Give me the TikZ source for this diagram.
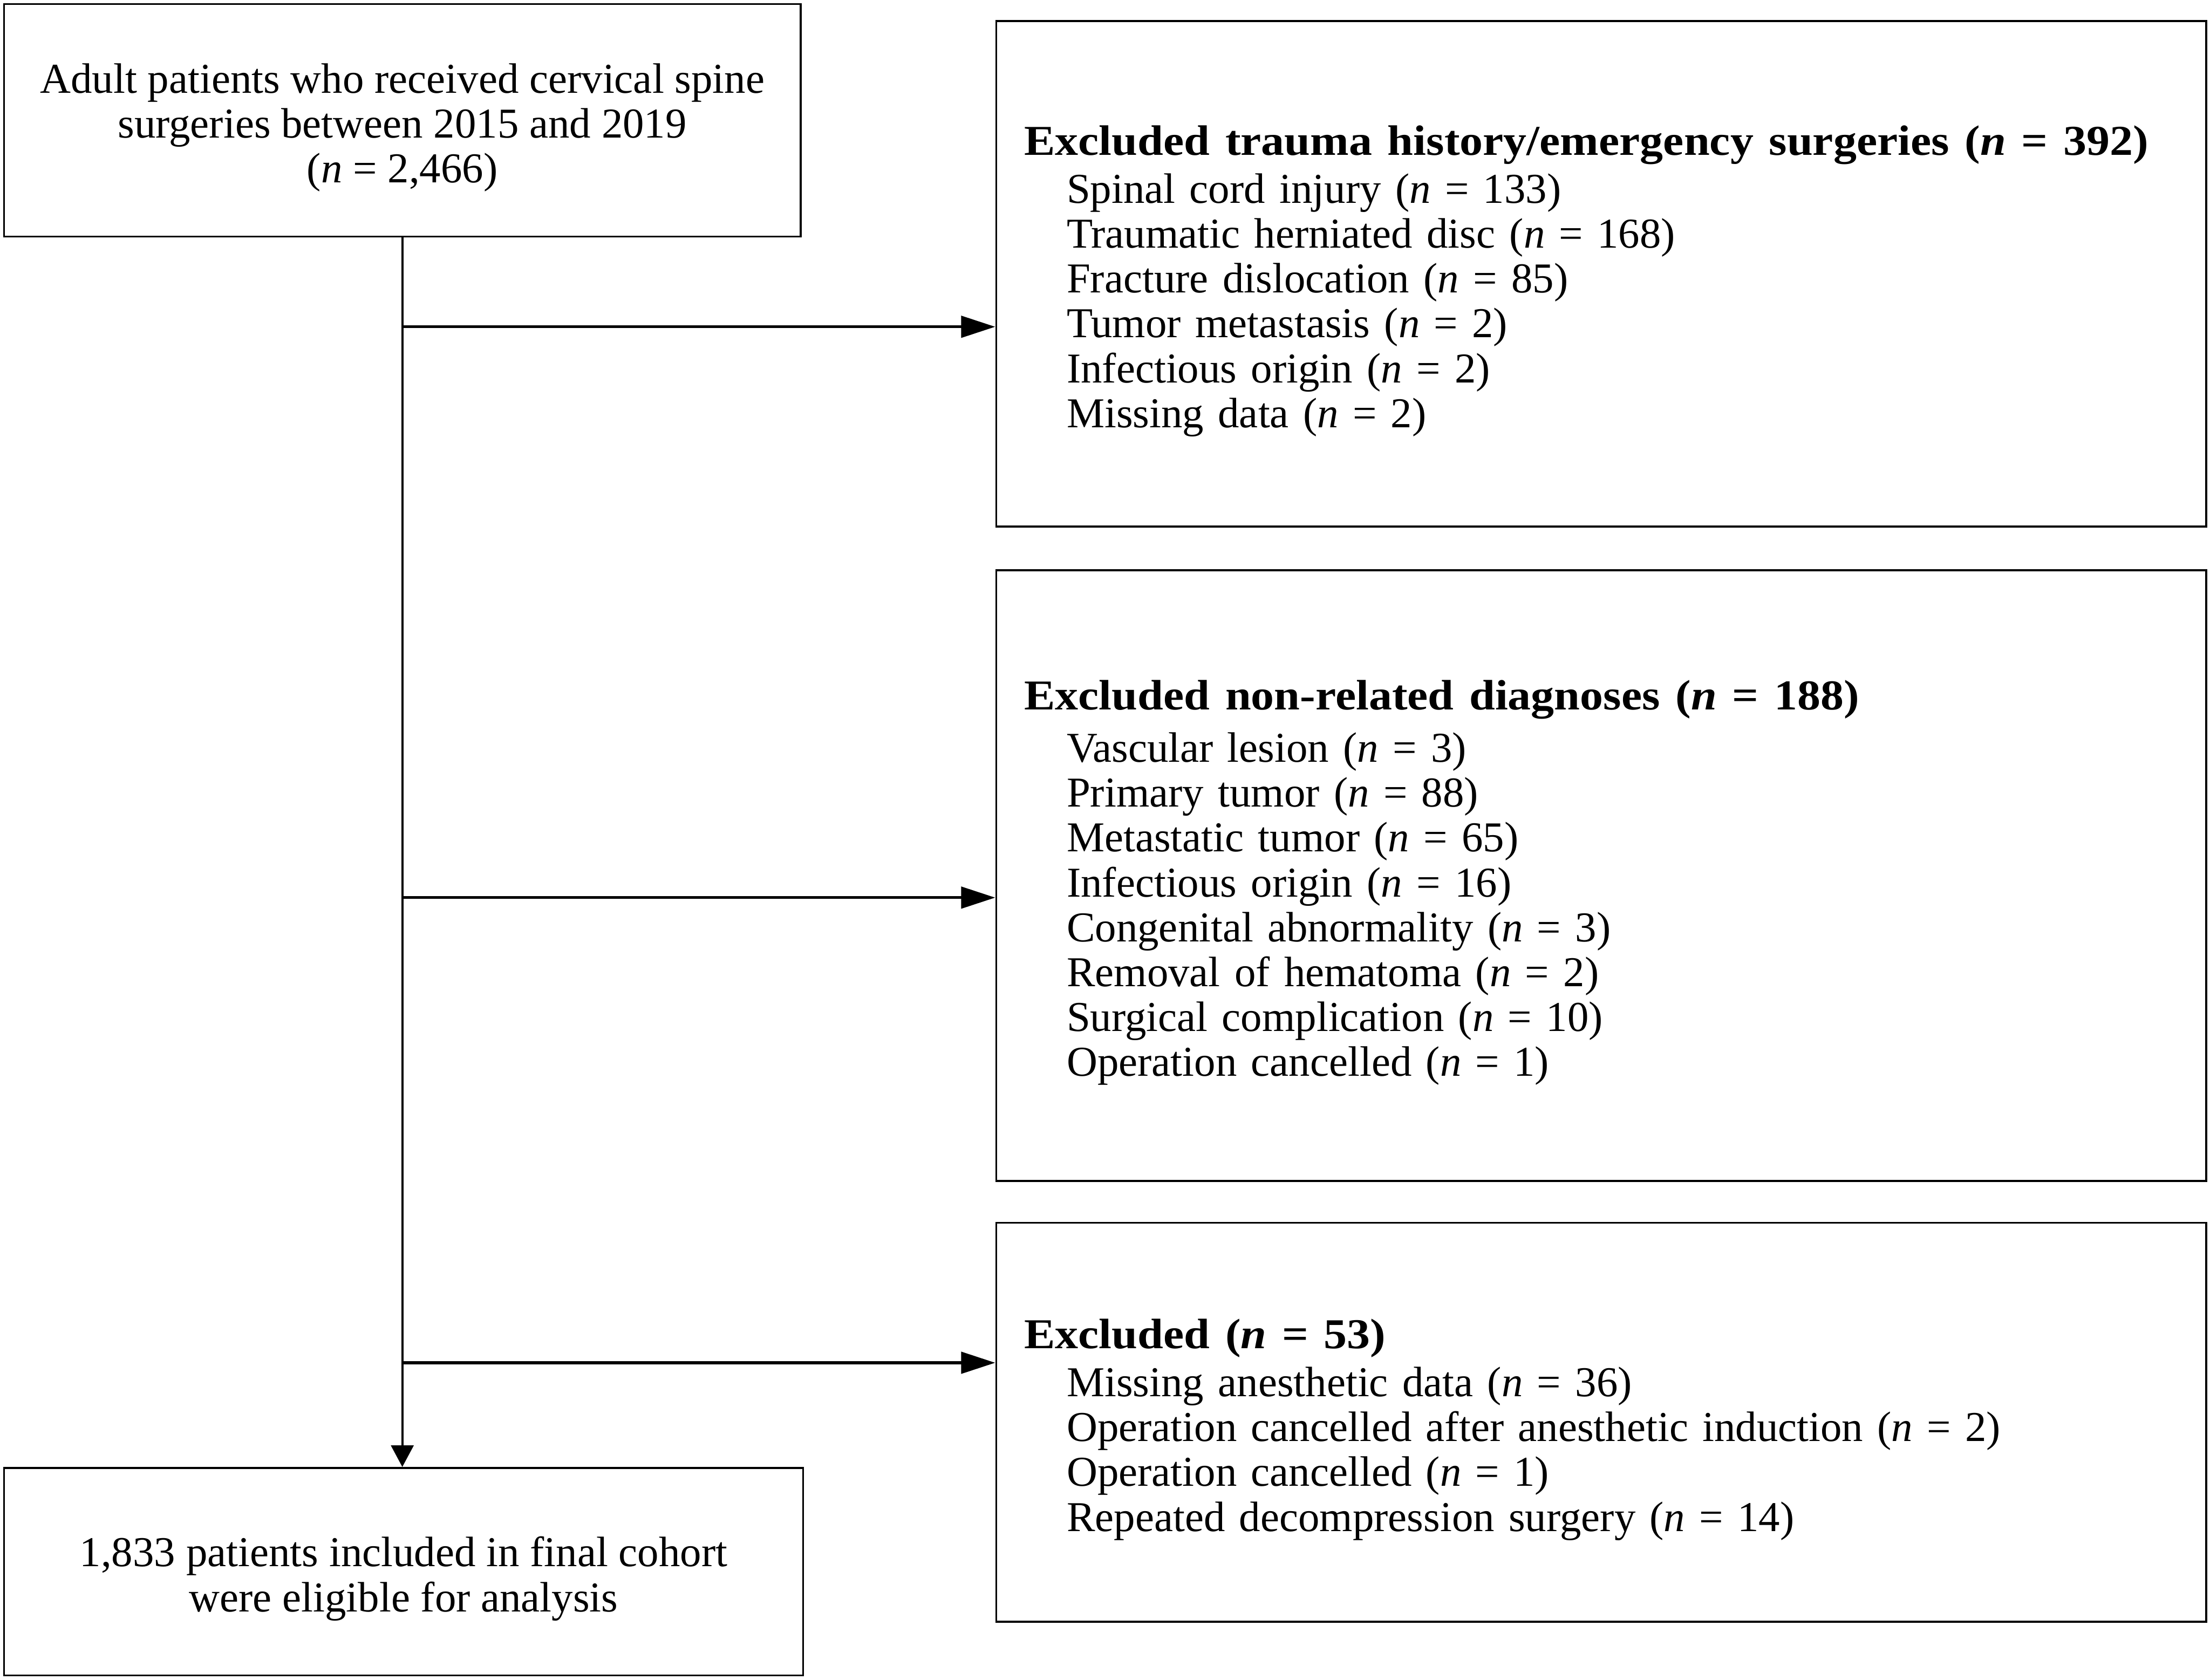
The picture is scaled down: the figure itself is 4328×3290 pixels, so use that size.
\documentclass[tikz,border=0pt]{standalone}
\usepackage{graphicx}
\usepackage{fontspec}
\setmainfont{Liberation Serif}
\usetikzlibrary{arrows.meta}
\newcommand\itemind{\hspace*{0.83cm}}
\newcommand\nn{\textit{n}}
\newcommand\topstrut{\rule{0pt}{\dimexpr 0.7em+8pt\relax}}
\newcommand\boldtitle[1]{\scalebox{1.09}[1]{\textbf{#1}}}
\begin{document}
\begin{tikzpicture}[x=0.01cm,y=-0.01cm,
  box/.style={draw, line width=1.1pt, inner ysep=0pt, anchor=north west,
    font=\fontsize{23.7}{25}\selectfont},
  leftbox/.style={box, inner xsep=0.55cm, align=left, minimum width=23.68cm, text width=22.58cm},
  midbox/.style={box, inner xsep=0pt, align=center},
  harrow/.style={line width=1.6pt, -{Triangle[length=19pt,width=12pt]}},
  varrow/.style={line width=1.3pt, -{Triangle[length=12pt,width=12.5pt]}}]
\useasboundingbox (0,0) rectangle (4328,3290);

\node[midbox, minimum width=15.59cm, minimum height=4.55cm] (a) at (6,6)
  {\topstrut Adult patients who received cervical spine\\surgeries between 2015 and 2019\\(\nn{} = 2,466)};

\node[leftbox, minimum height=9.90cm] (b) at (1949,39)
  {\topstrut\boldtitle{Excluded trauma history/emergency surgeries (\nn{} = 392)}\\[1.7pt]
   \itemind Spinal cord injury (\nn{} = 133)\\
   \itemind Traumatic herniated disc (\nn{} = 168)\\
   \itemind Fracture dislocation (\nn{} = 85)\\
   \itemind Tumor metastasis (\nn{} = 2)\\
   \itemind Infectious origin (\nn{} = 2)\\
   \itemind Missing data (\nn{} = 2)};

\node[leftbox, minimum height=11.95cm] (c) at (1949,1115)
  {\topstrut\boldtitle{Excluded non-related diagnoses (\nn{} = 188)}\\[4pt]
   \itemind Vascular lesion (\nn{} = 3)\\
   \itemind Primary tumor (\nn{} = 88)\\
   \itemind Metastatic tumor (\nn{} = 65)\\
   \itemind Infectious origin (\nn{} = 16)\\
   \itemind Congenital abnormality (\nn{} = 3)\\
   \itemind Removal of hematoma (\nn{} = 2)\\
   \itemind Surgical complication (\nn{} = 10)\\
   \itemind Operation cancelled (\nn{} = 1)};

\node[leftbox, minimum height=7.81cm] (d) at (1949,2393)
  {\topstrut\boldtitle{Excluded (\nn{} = 53)}\\[1.7pt]
   \itemind Missing anesthetic data (\nn{} = 36)\\
   \itemind Operation cancelled after anesthetic induction (\nn{} = 2)\\
   \itemind Operation cancelled (\nn{} = 1)\\
   \itemind Repeated decompression surgery (\nn{} = 14)};

\node[midbox, minimum width=15.64cm, minimum height=4.06cm] (e) at (6,2873)
  {\topstrut 1,833 patients included in final cohort\\were eligible for analysis};

\coordinate (j1) at (a.south |- 0,640);
\coordinate (j2) at (a.south |- 0,1758);
\coordinate (j3) at (a.south |- 0,2669);

\draw[varrow] (a.south) -- (a.south |- e.north);
\draw[harrow] (j1) -- (j1 -| b.west);
\draw[harrow] (j2) -- (j2 -| c.west);
\draw[harrow] (j3) -- (j3 -| d.west);
\end{tikzpicture}
\end{document}
